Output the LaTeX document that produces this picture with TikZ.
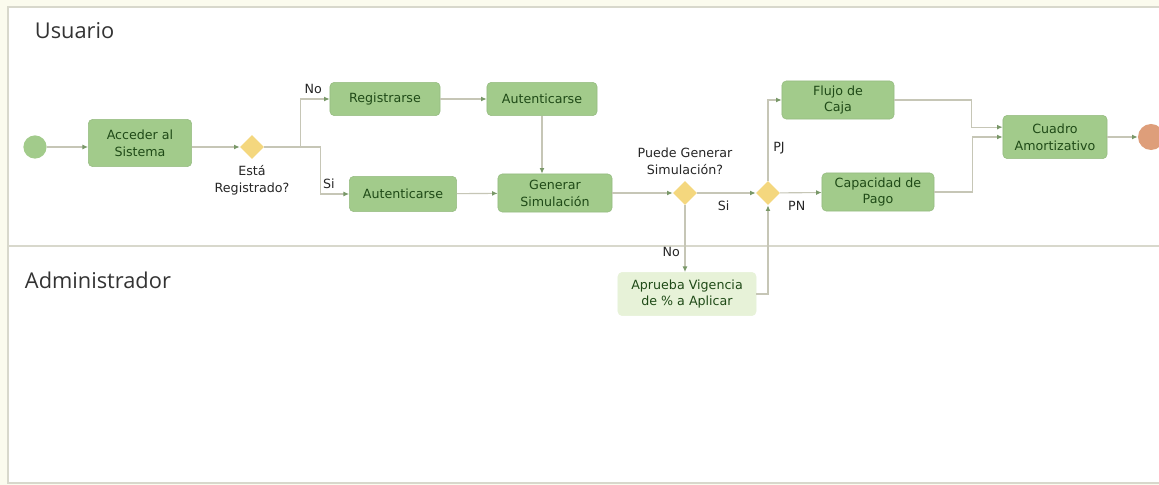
\documentclass[tikz,border=0pt]{standalone}
\usepackage{fontspec}
\setmainfont{DejaVu Sans}
\newfontfamily\lanefont{Open Sans}
\usetikzlibrary{shapes.geometric,arrows.meta}
\definecolor{boxgreen}{HTML}{A2CB8B}
\definecolor{boxtext}{HTML}{1F4A17}
\definecolor{lightbox}{HTML}{E7F2D8}
\definecolor{gateyellow}{HTML}{F4D77E}
\definecolor{flowline}{HTML}{C6C6B6}
\definecolor{endorange}{HTML}{DE9E7A}
\definecolor{lanebg}{HTML}{FBFBEE}
\definecolor{laneline}{HTML}{D8D8CC}
\tikzset{
    box/.style={draw=boxgreen!92!black, fill=boxgreen, rounded corners=3pt, text=boxtext,
        font=\fontsize{9}{12}\selectfont, align=center, minimum width=2.75cm,
        minimum height=0.95cm, inner sep=1pt},
    gate/.style={diamond, fill=gateyellow, minimum size=0.6cm, inner sep=0pt},
    flow/.style={draw=flowline, line width=0.8pt,
        -{Latex[length=4pt,width=3.5pt,color=boxgreen!75!black]}},
    lbl/.style={font=\fontsize{9}{12}\selectfont, align=center, text=black!85},
    lane/.style={font=\lanefont\fontsize{15.5}{18}\selectfont, text=black!80, anchor=west},
}
\begin{document}
\begin{tikzpicture}[x=0.025cm,y=-0.025cm]
    \clip (0,0) rectangle (1159,485);
    \fill[lanebg] (0,0) rectangle (1159,485);
    \draw[laneline, line width=1.2pt, fill=white] (8,7) rectangle (1170,483);
    \draw[laneline, line width=1.2pt] (8,246) -- (1170,246);
    \node[lane] (usuario) at (30,31) {Usuario};
    \node[lane] (admin) at (20,280) {Administrador};

    \node[circle, fill=boxgreen, minimum size=0.58cm, inner sep=0pt] (inicio) at (35,147) {};
    \node[box, minimum width=2.58cm, minimum height=1.18cm] (acceder) at (140,143) {Acceder al\\Sistema};
    \node[gate] (registrado) at (252,147) {};
    \node[lbl, below=1pt] at (registrado.south) {Está\\Registrado?};
    \node[box, minimum height=0.83cm] (registrarse) at (385,99) {Registrarse};
    \node[box, minimum height=0.83cm] (autentA) at (542,99) {Autenticarse};
    \node[box, minimum width=2.68cm, minimum height=0.88cm] (autentB) at (403,194) {Autenticarse};
    \node[box, minimum width=2.85cm] (generar) at (555,193) {Generar\\Simulación};
    \node[gate] (puede) at (685,193) {};
    \node[lbl, above=1pt] at (puede.north) {Puede Generar\\Simulación?};
    \node[box, fill=lightbox, draw=lightbox, minimum width=3.45cm, minimum height=1.08cm] (aprueba) at (687,294) {Aprueba Vigencia\\de \% a Aplicar};
    \node[gate] (tipo) at (768,193) {};
    \node[box, minimum width=2.8cm] (flujo) at (838,100) {Flujo de\\Caja};
    \node[box, minimum width=2.8cm] (capacidad) at (878,192) {Capacidad de\\Pago};
    \node[box, minimum width=2.6cm, minimum height=1.08cm] (cuadro) at (1055,137) {Cuadro\\Amortizativo};
    \node[circle, fill=endorange, minimum size=0.65cm, inner sep=0pt] (fin) at (1151,137) {};

    \draw[flow] (inicio) -- (inicio -| acceder.west);
    \draw[flow] (acceder.east |- registrado) -- (registrado);
    \draw[flow] (registrado.east) -- ++(36,0) |- node[lbl, pos=0.72, above] {No} (registrarse.west);
    \draw[flow] (registrado.east) -- ++(56,0) |- node[lbl, pos=0.65, above] {Si} (autentB.west);
    \draw[flow] (registrarse) -- (autentA);
    \draw[flow] (autentA.south) -- (autentA.south |- generar.north);
    \draw[flow] (autentB) -- (generar);
    \draw[flow] (generar) -- (puede);
    \draw[flow] (puede) -- node[lbl, pos=0.45, below=2pt] {Si} (tipo);
    \draw[flow] (puede.south) -- node[lbl, pos=0.7, left] {No} (puede.south |- aprueba.north);
    \draw[flow] (aprueba.east) -| (tipo.south);
    \draw[flow] (tipo.north) |- node[lbl, pos=0.2, right] {PJ} (flujo.west);
    \draw[flow] (tipo) -- node[lbl, pos=0.4, below=2pt] {PN} (capacidad);
    \draw[flow] (flujo.east) -- ++(77,0) |- ([yshift=7pt]cuadro.west);
    \draw[flow] (capacidad.east) -- ++(38,0) |- (cuadro.west);
    \draw[flow] (cuadro) -- (fin);
\end{tikzpicture}
\end{document}
